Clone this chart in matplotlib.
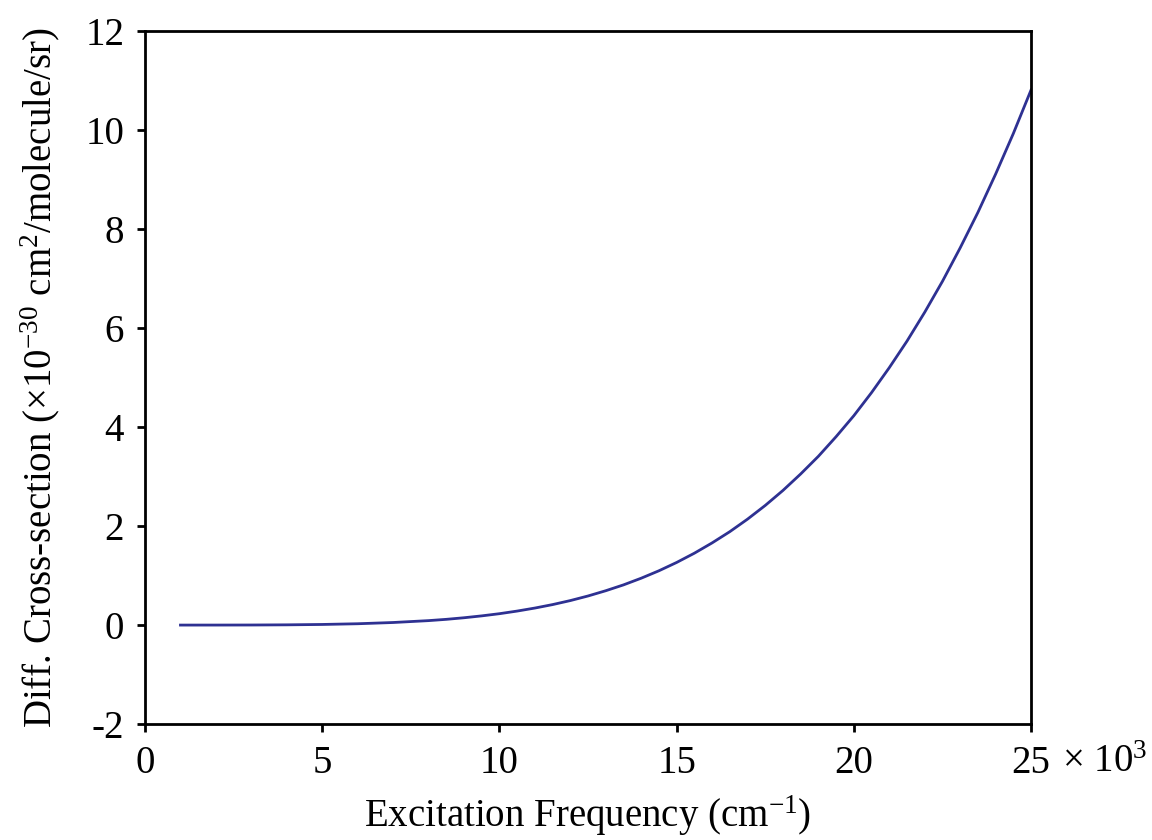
import matplotlib
import numpy as np

matplotlib.use('Agg')
import matplotlib.pyplot as plt

# Excitation frequency (x 10^3 cm^-1) and differential cross-section (x 10^-30 cm^2/molecule/sr)
frequency = [1, 2, 3, 4, 5, 6, 7, 8, 8.5, 9, 9.5, 10, 10.5, 11, 11.5, 12, 12.5,
             13, 13.5, 14, 14.5, 15, 15.5, 16, 16.5, 17, 17.5, 18, 18.5, 19, 19.5,
             20, 20.5, 21, 21.5, 22, 22.5, 23, 23.5, 24, 24.5, 25]
cross_section = [0.0, 0.0003, 0.0015, 0.005, 0.0125, 0.027, 0.052, 0.090, 0.116,
                 0.148, 0.186, 0.230, 0.283, 0.344, 0.414, 0.495, 0.588, 0.694,
                 0.812, 0.947, 1.097, 1.265, 1.452, 1.66, 1.887, 2.14, 2.417, 2.72,
                 3.053, 3.41, 3.807, 4.23, 4.697, 5.20, 5.737, 6.32, 6.944, 7.62,
                 8.336, 9.11, 9.930, 10.81]

x_ticks = [0, 5, 10, 15, 20, 25]
y_ticks = [-2, 0, 2, 4, 6, 8, 10, 12]

plt.rcParams['font.family'] = ['Liberation Serif', 'DejaVu Serif']
plt.rcParams['mathtext.fontset'] = 'custom'
plt.rcParams['mathtext.rm'] = 'Liberation Serif'
plt.rcParams['mathtext.it'] = 'Liberation Serif:italic'

fs = 28
tick_len = 6
tick_pad = 9

fig = plt.figure(figsize=(11.52, 8.4), dpi=100)
ax = fig.add_axes([0.1259, 0.138, 0.895 - 0.1259, 0.963 - 0.138])

ax.plot(frequency, cross_section, color='#2E3192', linewidth=2.0)

ax.set_xlim(0, 25)
ax.set_ylim(-2, 12)
ax.set_xticks(x_ticks)
ax.set_yticks(y_ticks)
ax.set_xticklabels([str(t) for t in x_ticks])
ax.set_yticklabels([str(t) for t in y_ticks])

for side in ['left', 'right', 'top', 'bottom']:
    ax.spines[side].set_linewidth(2.0)
ax.tick_params(direction='out', length=tick_len, width=2.0, labelsize=fs,
               pad=tick_pad, top=False, right=False)

# multiplier written after the last tick label, on the same baseline
ax.annotate(r'$\times$ 10$^{\mathrm{3}}$', xy=(1, 0), xycoords='axes fraction',
            xytext=(22, -(tick_len + tick_pad + 19.5)), textcoords='offset points',
            fontsize=fs, ha='left', va='baseline')

ax.set_xlabel(r'Excitation Frequency (cm$^{\mathrm{-1}}$)', fontsize=fs, labelpad=8)
ax.set_ylabel(r'Diff. Cross-section ($\times$10$^{\mathrm{-30}}$ cm$^{\mathrm{2}}$/molecule/sr)',
              fontsize=fs, labelpad=17)

plt.savefig('out.png', dpi=100)
